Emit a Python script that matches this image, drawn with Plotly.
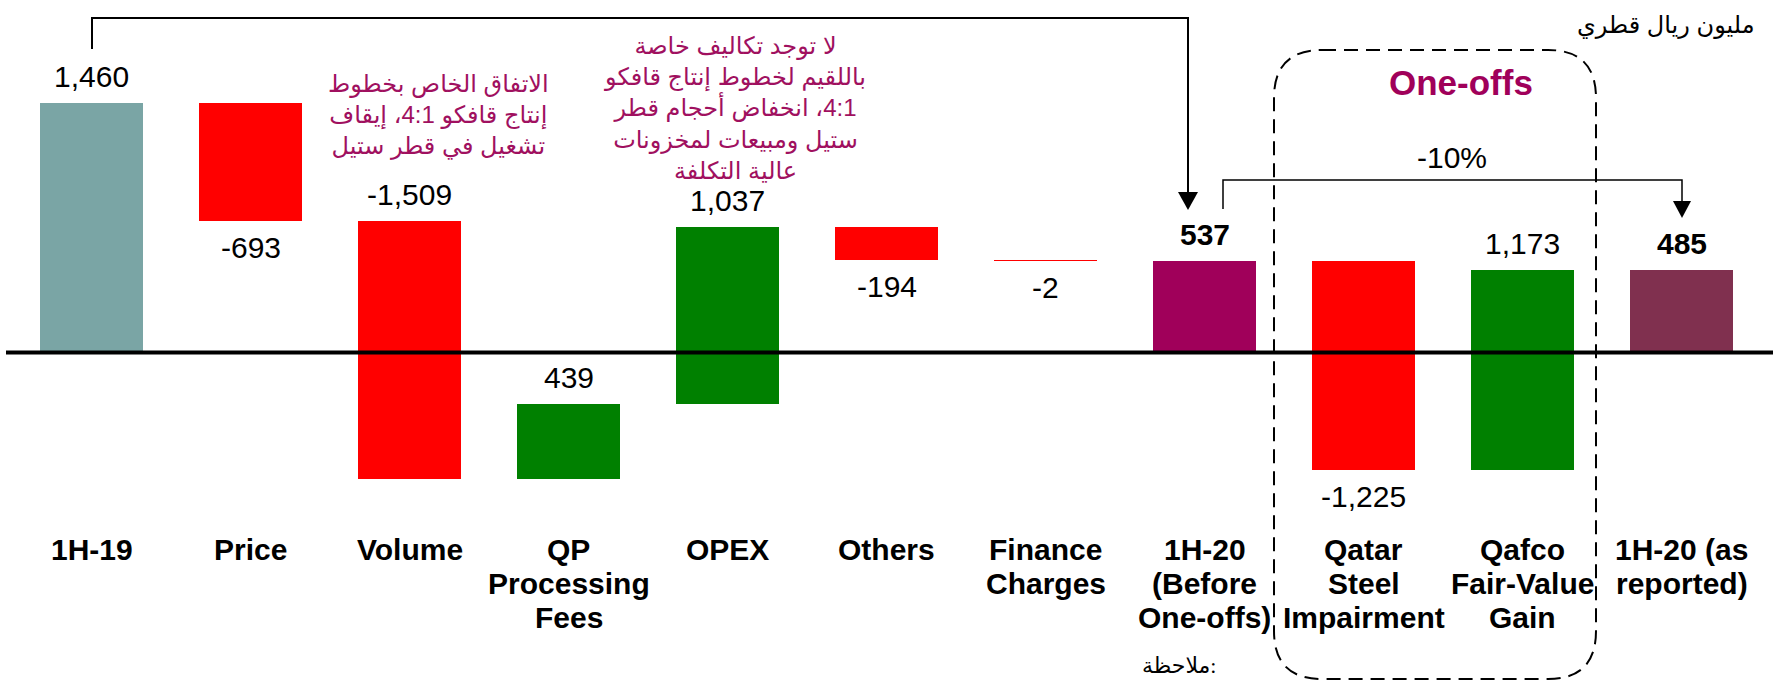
import plotly.graph_objects as go

# ---------------- data ----------------
categories = ["1H-19", "Price", "Volume", "QP<br>Processing<br>Fees", "OPEX", "Others",
              "Finance<br>Charges", "1H-20<br>(Before<br>One-offs)", "Qatar<br>Steel<br>Impairment",
              "Qafco<br>Fair-Value<br>Gain", "1H-20 (as<br>reported)"]
values = [1460, -693, -1509, 439, 1037, -194, -2, 537, -1225, 1173, 485]
measures = ["absolute", "relative", "relative", "relative", "relative", "relative",
            "relative", "total", "relative", "relative", "total"]
value_labels = ["1,460", "-693", "-1,509", "439", "1,037", "-194", "-2", "537", "-1,225", "1,173", "485"]
label_side = ["above", "below", "above", "above", "above", "below", "below", "above", "below", "above", "above"]
change_label = "-10%"
group_label = "One-offs"
unit_label = "مليون ريال قطري"
note_label = "ملاحظة:"
comment_volume = ["الاتفاق الخاص بخطوط", "إنتاج قافكو 4:1، إيقاف", "تشغيل في قطر ستيل"]
comment_opex = ["لا توجد تكاليف خاصة", "باللقيم لخطوط إنتاج قافكو", "\u200f4:1، انخفاض أحجام قطر",
                "ستيل ومبيعات لمخزونات", "عالية التكلفة"]

# ---------------- styles ----------------
W, H = 1773, 684
Y_ZERO = 352.5          # pixel row of value 0
PX_PER_UNIT = 0.171     # pixels per million QAR
CAT0, CAT_STEP = 91.5, 159.0
BAR_W_PX = 103
C_START = "#7AA5A5"
C_UP = "#008000"
C_DOWN = "#FF0000"
C_TOTALS = ["#A0005A", "#80304F"]
C_NOTE = "#A0105F"
FONT = "Liberation Sans, Arial, DejaVu Sans, sans-serif"

yr = [(Y_ZERO - H) / PX_PER_UNIT, Y_ZERO / PX_PER_UNIT]
xr = [-CAT0 / CAT_STEP, (W - CAT0) / CAT_STEP]


def PX(px):
    return px / W


def PY(py):
    return 1 - py / H


# ---------------- waterfall geometry from data ----------------
bases, heights, colors = [], [], []
running = 0
tot_i = 0
for v, m in zip(values, measures):
    if m == "absolute":
        bases.append(0); heights.append(v); running = v; colors.append(C_START)
    elif m == "total":
        bases.append(0); heights.append(v); running = v
        colors.append(C_TOTALS[tot_i % len(C_TOTALS)]); tot_i += 1
    else:
        bases.append(running); heights.append(v); running += v
        colors.append(C_UP if v >= 0 else C_DOWN)

n = len(values)
xs = list(range(n))

fig = go.Figure()
fig.add_trace(go.Bar(x=xs, y=heights, base=bases, width=BAR_W_PX / CAT_STEP,
                     marker=dict(color=colors, line=dict(width=0)),
                     hoverinfo="skip", showlegend=False))

annotations = []
shapes = []

# value labels
for i in range(n):
    lo = min(bases[i], bases[i] + heights[i])
    hi = max(bases[i], bases[i] + heights[i])
    bold = measures[i] == "total"
    txt = f"<b>{value_labels[i]}</b>" if bold else value_labels[i]
    if label_side[i] == "above":
        annotations.append(dict(x=i, y=hi, xref="x", yref="y", text=txt, showarrow=False,
                                yanchor="bottom", xanchor="center", yshift=8,
                                font=dict(family=FONT, size=30, color="black")))
    else:
        annotations.append(dict(x=i, y=lo, xref="x", yref="y", text=txt, showarrow=False,
                                yanchor="top", xanchor="center", yshift=-8,
                                font=dict(family=FONT, size=30, color="black")))

# category labels (one annotation per line for tight spacing)
for i, cat in enumerate(categories):
    for k, line in enumerate(cat.split("<br>")):
        annotations.append(dict(x=i, y=PY(531 + 34 * k), xref="x", yref="paper",
                                text=f"<b>{line}</b>", showarrow=False,
                                yanchor="top", xanchor="center",
                                font=dict(family=FONT, size=30, color="black")))

# comments
annotations.append(dict(x=PX(438), y=PY(115), xref="paper", yref="paper",
                        text="<br>".join(comment_volume), showarrow=False, align="center",
                        xanchor="center", yanchor="middle",
                        font=dict(family=FONT, size=24, color=C_NOTE)))
annotations.append(dict(x=PX(735), y=PY(108), xref="paper", yref="paper",
                        text="<br>".join(comment_opex), showarrow=False, align="center",
                        xanchor="center", yanchor="middle",
                        font=dict(family=FONT, size=24, color=C_NOTE)))
annotations.append(dict(x=PX(1757), y=PY(25), xref="paper", yref="paper",
                        text=unit_label, showarrow=False, xanchor="right", yanchor="middle",
                        font=dict(family=FONT, size=24, color="black")))
annotations.append(dict(x=PX(1179), y=PY(651), xref="paper", yref="paper",
                        text=note_label, showarrow=False, xanchor="center", yanchor="top",
                        font=dict(family="Liberation Serif, DejaVu Sans, serif", size=22, color="black")))
annotations.append(dict(x=PX(1461), y=PY(61), xref="paper", yref="paper",
                        text=f"<b>{group_label}</b>", showarrow=False, xanchor="center", yanchor="top",
                        font=dict(family=FONT, size=35, color=C_TOTALS[0])))
annotations.append(dict(x=PX(1452), y=PY(139), xref="paper", yref="paper",
                        text=change_label, showarrow=False, xanchor="center", yanchor="top",
                        font=dict(family=FONT, size=30, color="black")))

# baseline
shapes.append(dict(type="line", xref="paper", yref="y", x0=PX(6), x1=1, y0=0, y1=0,
                   line=dict(color="black", width=4)))


def path(points, close=False):
    s = "M " + " L ".join(f"{PX(x)},{PY(y)}" for x, y in points)
    return s + (" Z" if close else "")


# connector 1: 1H-19 -> 1H-20 before one-offs
shapes.append(dict(type="path", xref="paper", yref="paper",
                   path=path([(92, 49), (92, 18), (1188, 18), (1188, 193)]),
                   line=dict(color="black", width=2)))
shapes.append(dict(type="path", xref="paper", yref="paper",
                   path=path([(1178, 192), (1198, 192), (1188, 210)], close=True),
                   fillcolor="black", line=dict(width=0)))
# connector 2: -10%
shapes.append(dict(type="path", xref="paper", yref="paper",
                   path=path([(1223, 209), (1223, 180), (1682, 180), (1682, 203)]),
                   line=dict(color="black", width=1.5)))
shapes.append(dict(type="path", xref="paper", yref="paper",
                   path=path([(1673, 201), (1691, 201), (1682, 218)], close=True),
                   fillcolor="black", line=dict(width=0)))

# dashed rounded box around one-offs
x0, x1, y0, y1, r = 1274, 1596, 50, 679, 48
box = (f"M {PX(x0 + r)},{PY(y0)} L {PX(x1 - r)},{PY(y0)} Q {PX(x1)},{PY(y0)} {PX(x1)},{PY(y0 + r)} "
       f"L {PX(x1)},{PY(y1 - r)} Q {PX(x1)},{PY(y1)} {PX(x1 - r)},{PY(y1)} "
       f"L {PX(x0 + r)},{PY(y1)} Q {PX(x0)},{PY(y1)} {PX(x0)},{PY(y1 - r)} "
       f"L {PX(x0)},{PY(y0 + r)} Q {PX(x0)},{PY(y0)} {PX(x0 + r)},{PY(y0)} Z")
shapes.append(dict(type="path", xref="paper", yref="paper", path=box,
                   line=dict(color="black", width=2, dash="14px,8px")))

fig.update_layout(
    width=W, height=H,
    margin=dict(l=0, r=0, t=0, b=0, pad=0),
    paper_bgcolor="white", plot_bgcolor="white",
    xaxis=dict(range=xr, visible=False, fixedrange=True),
    yaxis=dict(range=yr, visible=False, fixedrange=True),
    annotations=annotations, shapes=shapes,
    bargap=0, showlegend=False,
)

fig.write_html("out.html", config={"displayModeBar": False},
               post_script="document.body.style.margin='0';document.body.style.overflow='hidden';")
